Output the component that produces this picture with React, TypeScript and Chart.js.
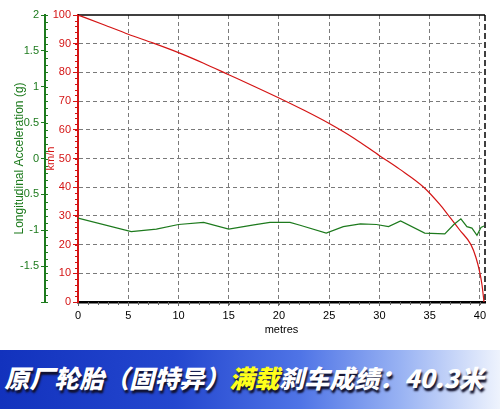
import React, { useEffect, useRef } from 'react';
import { Chart, registerables, Plugin } from 'chart.js';

Chart.register(...registerables);

// speed trace (km/h against metres)
const speedDist = [0, 2.5, 5, 7.5, 10, 12.5, 15, 17.5, 20, 22.5, 25, 27.5, 30, 32, 34.4, 36, 36.9, 38, 39.1, 39.6, 40.0, 40.2, 40.4];
const speedKmh = [100, 96.7, 93.3, 90.2, 86.9, 83.2, 79.2, 75.2, 71.1, 66.8, 62.2, 57, 51, 46.3, 40, 34, 30, 25, 20, 15.5, 10, 6, 0];

// longitudinal acceleration trace (g against metres)
const accelDist = [0, 5.3, 7.8, 10, 12.5, 15, 17.5, 19.1, 21.1, 22.1, 24.7, 26.4, 28.1, 29.7, 30.9, 32.1, 34.5, 36.5, 37.4, 38.1, 38.7, 39.2, 39.7, 40.1, 40.4];
const accelG = [-0.83, -1.02, -0.985, -0.92, -0.89, -0.985, -0.925, -0.89, -0.89, -0.93, -1.04, -0.95, -0.91, -0.92, -0.95, -0.87, -1.04, -1.05, -0.92, -0.84, -0.95, -0.97, -1.07, -0.96, -0.94];

const xRange = [0, 40.5];
const speedRange = [0, 100];
const accelRange = [-2, 2];

const RED = '#d41414';
const GREEN = '#1d7a1d';
const FONT = 'Arial, "Liberation Sans", sans-serif';

// frame lines + minor ticks
const framePlugin: Plugin = {
  id: 'frame',
  beforeDatasetsDraw(chart) {
    const { ctx, chartArea: a } = chart;
    ctx.save();
    ctx.strokeStyle = '#000';
    ctx.lineWidth = 1.5;
    ctx.beginPath();
    ctx.moveTo(a.left, a.top);
    ctx.lineTo(a.right, a.top);
    ctx.stroke();
    ctx.setLineDash([6, 3]);
    ctx.beginPath();
    ctx.moveTo(a.right, a.top);
    ctx.lineTo(a.right, a.bottom);
    ctx.stroke();
    ctx.restore();
  },
  afterDraw(chart) {
    const { ctx } = chart;
    const sx = chart.scales.x;
    const sy = chart.scales.y;
    const sa = chart.scales.y2;
    ctx.save();
    ctx.lineWidth = 1;
    ctx.strokeStyle = RED;
    ctx.beginPath();
    for (let v = 0; v <= 100; v += 2) {
      const p = Math.round(sy.getPixelForValue(v)) + 0.5;
      ctx.moveTo(sy.right - 3, p);
      ctx.lineTo(sy.right, p);
    }
    ctx.stroke();
    ctx.strokeStyle = GREEN;
    ctx.beginPath();
    for (let i = -20; i <= 20; i++) {
      const p = Math.round(sa.getPixelForValue(i / 10)) + 0.5;
      ctx.moveTo(sa.right, p);
      ctx.lineTo(sa.right + 3, p);
    }
    ctx.stroke();
    ctx.strokeStyle = '#666';
    ctx.beginPath();
    for (let m = 1; m <= 40; m++) {
      const p = Math.round(sx.getPixelForValue(m)) + 0.5;
      ctx.moveTo(p, sx.top);
      ctx.lineTo(p, sx.top + 3);
    }
    ctx.stroke();
    ctx.restore();
  },
};

function BrakeChart() {
  const canvasRef = useRef<HTMLCanvasElement | null>(null);
  useEffect(() => {
    if (!canvasRef.current) return;
    const ctx = canvasRef.current.getContext('2d');
    if (!ctx) return;

    const chart = new Chart(ctx, {
      type: 'line',
      data: {
        datasets: [
          {
            label: 'Longitudinal Acceleration (g)',
            data: accelDist.map((x, i) => ({ x, y: accelG[i] })),
            yAxisID: 'y2',
            borderColor: GREEN,
            borderWidth: 1.2,
            pointRadius: 0,
            tension: 0,
          },
          {
            label: 'km/h',
            data: speedDist.map((x, i) => ({ x, y: speedKmh[i] })),
            yAxisID: 'y',
            borderColor: RED,
            borderWidth: 1.2,
            pointRadius: 0,
            cubicInterpolationMode: 'monotone',
          },
        ],
      },
      options: {
        responsive: false,
        animation: false,
        layout: { padding: { top: 15, right: 15, left: 0, bottom: 0 } },
        plugins: { legend: { display: false }, tooltip: { enabled: false } },
        scales: {
          x: {
            type: 'linear',
            min: xRange[0],
            max: xRange[1],
            afterFit: (s: any) => { s.height = 43; },
            ticks: {
              stepSize: 5,
              includeBounds: false,
              color: '#000',
              padding: 3,
              font: { family: FONT, size: 11 },
            },
            grid: {
              color: (c: any) => (c.tick && c.tick.value === 0 ? 'transparent' : '#7a7a7a'),
              tickColor: '#666',
              tickLength: 4,
            },
            border: { color: '#000', width: 2.5, dash: [4, 3] },
            title: {
              display: true,
              text: 'metres',
              color: '#000',
              font: { family: FONT, size: 11 },
              padding: { top: 0, bottom: 8 },
            },
          },
          y: {
            type: 'linear',
            position: 'left',
            weight: 0,
            min: speedRange[0],
            max: speedRange[1],
            afterFit: (s: any) => { s.width = 33; },
            ticks: {
              stepSize: 10,
              color: RED,
              padding: 2,
              font: { family: FONT, size: 11 },
            },
            grid: {
              color: (c: any) => (c.tick && (c.tick.value === 0 || c.tick.value === 100) ? 'transparent' : '#7a7a7a'),
              tickColor: RED,
              tickLength: 5,
            },
            border: { color: RED, width: 2, dash: [4, 3] },
            title: {
              display: true,
              text: 'km/h',
              color: RED,
              font: { family: FONT, size: 11 },
              padding: -1,
            },
          },
          y2: {
            type: 'linear',
            position: 'left',
            weight: 1,
            min: accelRange[0],
            max: accelRange[1],
            afterFit: (s: any) => { s.width = 45; },
            ticks: {
              stepSize: 0.5,
              color: GREEN,
              padding: 2,
              font: { family: FONT, size: 11 },
              callback: (v: any) => (v === -2 ? '' : String(v)),
            },
            grid: {
              drawOnChartArea: false,
              color: GREEN,
              tickColor: GREEN,
              tickLength: 4,
            },
            border: { color: GREEN, width: 2 },
            title: {
              display: true,
              text: 'Longitudinal Acceleration (g)',
              color: GREEN,
              font: { family: FONT, size: 12 },
              padding: { top: 12, bottom: 0 },
            },
          },
        },
      },
      plugins: [framePlugin],
    });

    return () => chart.destroy();
  }, []);

  return <canvas ref={canvasRef} width={500} height={345} style={{ display: 'block' }} />;
}

export default function App() {
  return (
    <div style={{ position: 'fixed', left: 0, top: 0, width: 500, height: 409, background: '#fff', overflow: 'hidden' }}>
      <BrakeChart />
      <div
        style={{
          position: 'absolute',
          left: 0,
          top: 350,
          width: 500,
          height: 59,
          background: 'linear-gradient(to right, #1232bd 0%, #2447cf 35%, #4f74e6 60%, #98b2f3 80%, #eef3fd 100%)',
        }}
      >
        <div
          style={{
            position: 'absolute',
            left: 7,
            top: 12,
            whiteSpace: 'nowrap',
            fontFamily: '"Noto Sans CJK SC", sans-serif',
            fontWeight: 900,
            fontSize: 25,
            lineHeight: '30px',
            color: '#fff',
            transform: 'skewX(-14deg)',
            textShadow: '2px 3px 2px #10102a',
          }}
        >
          原厂轮胎（固特异）<span style={{ color: '#ffff1a' }}>满载</span>刹车成绩：40.3米
        </div>
      </div>
    </div>
  );
}
